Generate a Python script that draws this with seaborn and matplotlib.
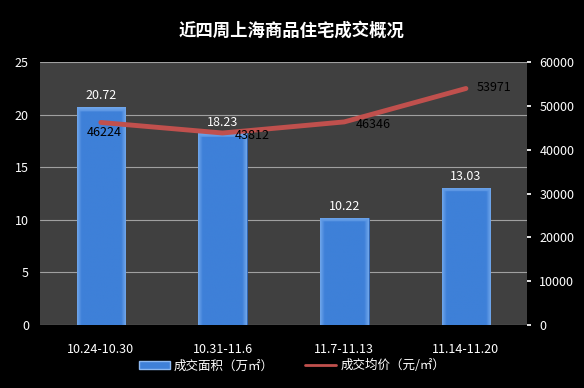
import matplotlib
matplotlib.use("Agg")
import matplotlib.pyplot as plt
import seaborn as sns
import numpy as np
import pandas as pd
from matplotlib.patches import Patch
from matplotlib.lines import Line2D

categories = ["10.24-10.30", "10.31-11.6", "11.7-11.13", "11.14-11.20"]
area = [20.72, 18.23, 10.22, 13.03]
price = [46224, 43812, 46346, 53971]
title = "近四周上海商品住宅成交概况"
legend_labels = ["成交面积（万㎡）", "成交均价（元/㎡）"]

sns.set_theme(style="dark")
plt.rcParams['font.family'] = ['Noto Sans CJK SC', 'DejaVu Sans']

fig = plt.figure(figsize=(5.84, 3.88), dpi=100, facecolor="black")
ax = fig.add_axes([0.0685, 0.1624, 0.8335, 0.6776])
ax.set_facecolor("#404040")

df = pd.DataFrame({"week": categories, "area": area, "price": price})
sns.barplot(data=df, x="week", y="area", ax=ax, color="#3F80D8", width=0.4,
            saturation=1, edgecolor="#2E66B8", linewidth=0.6, zorder=3)
ax.set_xlim(-0.5, 3.5)
ax.set_ylim(0, 25)
ax.set_yticks([0, 5, 10, 15, 20, 25])
ax.grid(axis="y", color="#A0A0A0", linewidth=0.8, zorder=0)
ax.set_axisbelow(True)
ax.set_xlabel("")
ax.set_ylabel("")
for s in ax.spines.values():
    s.set_visible(False)
ax.tick_params(axis="both", colors="white", labelsize=9, length=0, pad=8)
ax.tick_params(axis="x", pad=13)

# bevel-like shading on bars (clipped to each bar patch)
base = np.array([62, 128, 216]) / 255
light = np.array([120, 172, 238]) / 255
for p in ax.patches:
    W, H = 48, 200
    xs = np.linspace(0, 1, W)
    edge = np.clip(1 - np.minimum(xs, 1 - xs) / 0.09, 0, 1) * 0.8
    img = np.zeros((H, W, 3))
    for c in range(3):
        img[:, :, c] = base[c] + (light[c] - base[c]) * edge[None, :]
    top_px = max(2, int(H * 0.45 / max(p.get_height(), 0.1)))
    for r in range(min(top_px, H)):
        t = 0.85 * (1 - r / top_px * 0.5)
        img[r, :, :] = np.maximum(img[r, :, :], base + (light - base) * t)
    im = ax.imshow(img, extent=(p.get_x(), p.get_x() + p.get_width(), 0, p.get_height()),
                   aspect="auto", zorder=3.1, interpolation="bilinear")
    im.set_clip_path(p)
ax.set_xlim(-0.5, 3.5)
ax.set_ylim(0, 25)

for p, v in zip(ax.patches, area):
    ax.text(p.get_x() + p.get_width() / 2, p.get_height() + 0.45, f"{v:.2f}",
            ha="center", va="bottom", color="white", fontsize=9, zorder=5)

ax2 = ax.twinx()
sns.lineplot(x=np.arange(len(categories)), y=price, ax=ax2, color="#C0504D",
             linewidth=3.5, zorder=4)
ax2.set_ylim(0, 60000)
ax2.set_yticks(np.arange(0, 60001, 10000))
ax2.set_ylabel("")
for s in ax2.spines.values():
    s.set_visible(False)
ax2.tick_params(axis="y", colors="white", labelsize=9, length=3, pad=6)
ax2.grid(False)

label_offsets = [(-10, -7), (9, -1.5), (8, -2), (8, 0.5)]
for i, v in enumerate(price):
    ax2.annotate(f"{v}", (i, v), xytext=label_offsets[i], textcoords="offset points",
                 ha="left", va="center", color="black", fontsize=9, zorder=6)

fig.text(0.5, 0.92, title, ha="center", va="center", color="white",
         fontsize=12.5, fontweight="bold")

handles = [Patch(facecolor="#3F80D8", edgecolor="#8DB8F0"),
           Line2D([0], [0], color="#C0504D", linewidth=2)]
fig.legend(handles, legend_labels, loc="center", bbox_to_anchor=(0.5, 0.057), ncol=2,
           frameon=False, labelcolor="white", fontsize=9, handlelength=2.5,
           columnspacing=2.5, handletextpad=0.3)

fig.savefig("out.png", dpi=100, facecolor="black")
